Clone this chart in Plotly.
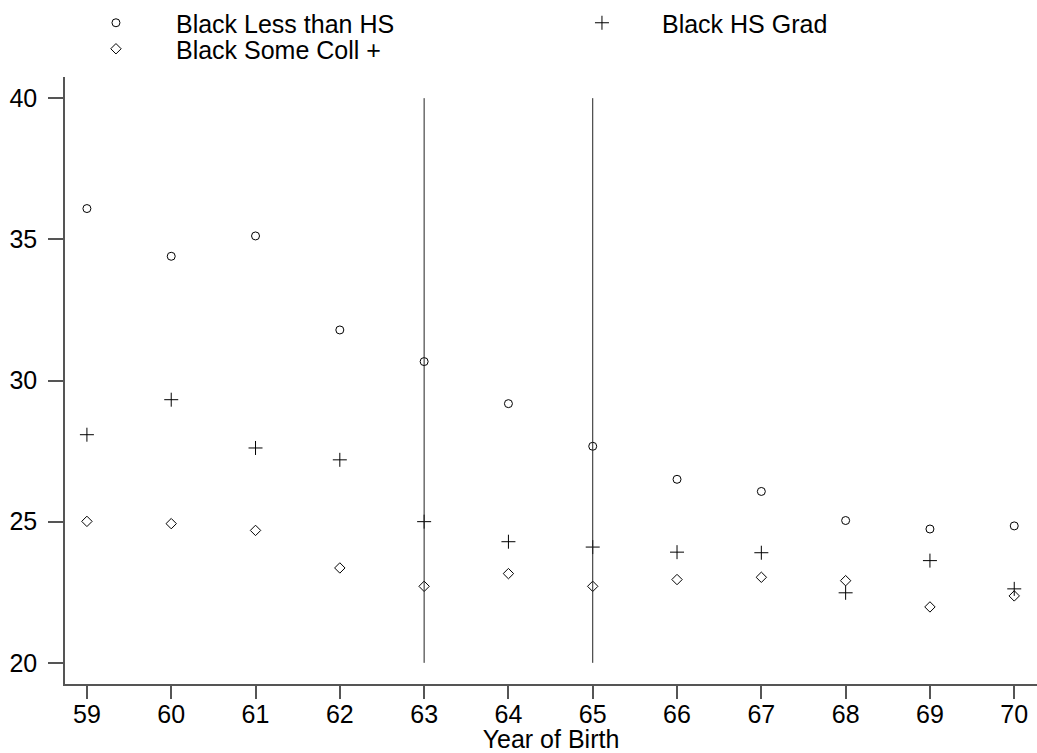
import plotly.graph_objects as go

# Year of birth (two-digit) and the three education series
years = [59, 60, 61, 62, 63, 64, 65, 66, 67, 68, 69, 70]
less_than_hs = [36.09, 34.40, 35.12, 31.79, 30.67, 29.18, 27.67, 26.50, 26.07, 25.04, 24.74, 24.85]
hs_grad = [28.08, 29.32, 27.61, 27.19, 25.00, 24.29, 24.10, 23.92, 23.90, 22.48, 23.62, 22.62]
some_coll = [25.01, 24.93, 24.69, 23.36, 22.71, 23.16, 22.71, 22.95, 23.03, 22.91, 21.98, 22.37]

# Reference years marked with vertical rules
ref_years = [63, 65]
ref_span = [20, 40]

x_ticks = years
y_ticks = [20, 25, 30, 35, 40]

FONT = "Liberation Sans, Arial, sans-serif"
INK = "black"
AXIS = "#555"

fig = go.Figure()

# each series gets its own legend box so the keys sit in a two-column grid
series = [
    ("Black Less than HS", less_than_hs, "circle-open", 8, "legend"),
    ("Black HS Grad", hs_grad, "cross-thin-open", 10, "legend2"),
    ("Black Some Coll +", some_coll, "diamond-open", 8, "legend3"),
]
for name, vals, sym, size, lg in series:
    fig.add_trace(go.Scatter(
        x=years, y=vals, mode="markers", name=name, legend=lg,
        marker=dict(symbol=sym, size=size, color=INK, line=dict(width=1, color=INK)),
    ))

for ry in ref_years:
    fig.add_trace(go.Scatter(
        x=[ry, ry], y=ref_span, mode="lines", showlegend=False,
        line=dict(color="#222", width=1), hoverinfo="skip",
    ))

axis_common = dict(
    showgrid=False, zeroline=False, showline=True, linecolor=AXIS, linewidth=1.5,
    ticks="outside", tickcolor=AXIS, tickwidth=1.5,
    tickfont=dict(family=FONT, size=25, color=INK),
)

fig.update_xaxes(
    range=[58.74, 70.27], tickvals=x_ticks, ticktext=[str(v) for v in x_ticks],
    ticklen=13, ticklabelstandoff=-6,
    title=dict(text="Year of Birth", font=dict(family=FONT, size=25, color=INK), standoff=0),
    **axis_common,
)
fig.update_yaxes(
    range=[19.25, 40.75], tickvals=y_ticks, ticktext=[str(v) for v in y_ticks],
    ticklen=15, ticklabelstandoff=6, **axis_common,
)

legend_common = dict(
    xanchor="left", yanchor="middle", itemwidth=110,
    font=dict(family=FONT, size=25, color=INK),
    bgcolor="rgba(0,0,0,0)", borderwidth=0, itemsizing="trace",
)

fig.update_layout(
    width=1037, height=753,
    margin=dict(l=65, r=0, t=76, b=69),
    paper_bgcolor="white", plot_bgcolor="white",
    font=dict(family=FONT, size=25, color=INK),
    showlegend=True,
    legend=dict(x=-0.0093, y=1.0888, **legend_common),
    legend2=dict(x=0.4907, y=1.0888, **legend_common),
    legend3=dict(x=-0.0093, y=1.0444, **legend_common),
)

fig.write_html("out.html")
